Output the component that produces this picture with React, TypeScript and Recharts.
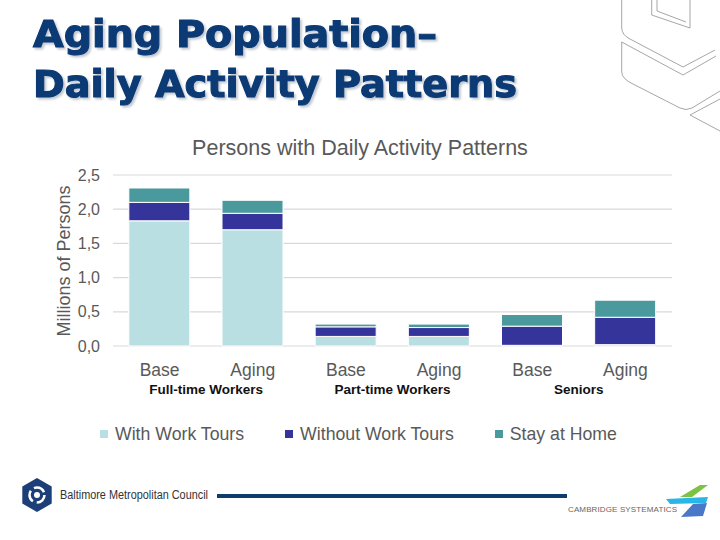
import React from "react";
import { BarChart, Bar, XAxis, YAxis, CartesianGrid, Legend } from "recharts";

// persons by daily activity pattern, millions
const scenarios = ["Base", "Aging", "Base", "Aging", "Base", "Aging"];
const groups = [
  "Full-time Workers",
  "Full-time Workers",
  "Part-time Workers",
  "Part-time Workers",
  "Seniors",
  "Seniors",
];
const withWorkTours = [1.83, 1.7, 0.14, 0.14, 0.01, 0.02];
const withoutWorkTours = [0.27, 0.24, 0.14, 0.13, 0.28, 0.4];
const stayAtHome = [0.21, 0.19, 0.04, 0.05, 0.17, 0.25];
const yTicks = [0, 0.5, 1, 1.5, 2, 2.5];

const series = [
  { key: "withWork", name: "With Work Tours", color: "#BADFE3" },
  { key: "withoutWork", name: "Without Work Tours", color: "#34349A" },
  { key: "stayHome", name: "Stay at Home", color: "#4A999D" },
];

const rows = scenarios.map((scenario, i) => ({
  scenario,
  group: groups[i],
  withWork: withWorkTours[i],
  withoutWork: withoutWorkTours[i],
  stayHome: stayAtHome[i],
}));

const FONT = '"Liberation Sans", Arial, sans-serif';
const GREY = "#595959";
const NAVY = "#0B3A75";

function ScenarioTick({ x, y, payload }: any) {
  return (
    <text x={x} y={y + 22} textAnchor="middle" fontSize={17.5} fill={GREY} fontFamily={FONT}>
      {payload.value}
    </text>
  );
}

function GroupTick({ x, y, payload }: any) {
  return (
    <text x={x} y={y + 18} textAnchor="middle" fontSize={13.5} fontWeight="bold" fill="#111" fontFamily={FONT}>
      {payload.value}
    </text>
  );
}

// legend keeps the stacking order (bottom segment first)
function LegendRow({ payload }: any) {
  const items = [...(payload || [])].sort(
    (a: any, b: any) =>
      series.findIndex((s) => s.name === a.value) - series.findIndex((s) => s.name === b.value)
  );
  return (
    <div
      style={{
        display: "flex",
        alignItems: "center",
        gap: 41,
        paddingLeft: 100,
        height: 20,
        fontFamily: FONT,
        fontSize: 17.7,
        color: GREY,
      }}
    >
      {items.map((p: any) => (
        <div key={p.value} style={{ display: "flex", alignItems: "center", lineHeight: "20px" }}>
          <span style={{ width: 8, height: 8, background: p.color, marginRight: 7, display: "inline-block" }} />
          {p.value}
        </div>
      ))}
    </div>
  );
}

function SlideArt() {
  return (
    <svg width={720} height={540} style={{ position: "absolute", left: 0, top: 0 }}>
      {/* outline shapes in the top right corner */}
      <g fill="none" stroke="#8f8f8f" strokeWidth={0.8}>
        <polyline points="651.7,0 651.7,15 690,28 690,0" />
        <polyline points="657,0 657,11 686,22" />
        <path d="M621.7,0 L621.7,28 Q622,35 630,39 L683,67 L715,50" />
        <path d="M621.7,42 L683,75 L716,56" />
        <path d="M621.7,42 L621.7,72 Q622,79 633,84 L680,108 Q686,111 692,108 L720,91" />
        <path d="M690,115 L720,99 M690,115 L720,131" />
      </g>

      {/* slide title */}
      <g
        fill={NAVY}
        stroke={NAVY}
        strokeWidth={1.1}
        fontFamily='"DejaVu Sans", Verdana, sans-serif'
        fontWeight="bold"
        fontSize={37}
        style={{ filter: "drop-shadow(2px 2px 1px rgba(120,130,150,0.45))" }}
      >
        <text x={33} y={47} textLength={404} lengthAdjust="spacingAndGlyphs">Aging Population–</text>
        <text x={33} y={97} textLength={484} lengthAdjust="spacingAndGlyphs">Daily Activity Patterns</text>
      </g>

      {/* chart title and value axis title */}
      <text x={360} y={155} textAnchor="middle" fontSize={21.5} fill={GREY} fontFamily={FONT}>
        Persons with Daily Activity Patterns
      </text>
      <text
        x={0}
        y={0}
        transform="translate(70,261) rotate(-90)"
        textAnchor="middle"
        fontSize={18}
        fill={GREY}
        fontFamily={FONT}
      >
        Millions of Persons
      </text>

      {/* footer */}
      <g transform="translate(37,495)">
        <polygon points="0,-17 14.7,-8.5 14.7,8.5 0,17 -14.7,8.5 -14.7,-8.5" fill="#1D3F78" />
        <circle r={7.5} fill="none" stroke="#fff" strokeWidth={2.5} strokeDasharray="12 4" />
        <circle r={3} fill="#fff" />
      </g>
      <text x={60} y={499} fontSize={12} fill="#333" fontFamily={FONT} textLength={148} lengthAdjust="spacingAndGlyphs">
        Baltimore Metropolitan Council
      </text>
      <rect x={217} y={494} width={350} height={4} fill="#0E3C70" />
      <text x={568} y={512} fontSize={8} fill="#666" fontFamily={FONT} textLength={109} lengthAdjust="spacing">
        CAMBRIDGE SYSTEMATICS
      </text>
      <polygon points="680,497 700,485 708,485 692,497" fill="#7DC242" />
      <polygon points="666,499 708,497 706,503 670,504" fill="#29B5E8" />
      <polygon points="693,504 707,503 703,516 681,517" fill="#4A78C8" />
    </svg>
  );
}

export default function App() {
  return (
    <div
      style={{
        position: "absolute",
        left: 0,
        top: 0,
        width: 720,
        height: 540,
        background: "#fff",
        overflow: "hidden",
        fontFamily: FONT,
      }}
    >
      <SlideArt />
      <div style={{ position: "absolute", left: 0, top: 0 }}>
        <BarChart
          width={720}
          height={540}
          data={rows}
          margin={{ top: 175, right: 48, bottom: 130, left: 53 }}
          barCategoryGap="17%"
        >
          <CartesianGrid xAxisId="main" vertical={false} stroke="#D9D9D9" strokeWidth={1.2} />
          <XAxis
            xAxisId="main"
            dataKey="scenario"
            height={22}
            axisLine={false}
            tickLine={false}
            interval={0}
            tick={<ScenarioTick />}
          />
          <XAxis
            xAxisId="pair"
            dataKey="group"
            allowDuplicatedCategory={false}
            height={22}
            axisLine={false}
            tickLine={false}
            interval={0}
            tick={<GroupTick />}
          />
          <YAxis
            width={60}
            domain={[0, 2.5]}
            ticks={yTicks}
            axisLine={false}
            tickLine={false}
            tickMargin={7}
            tickFormatter={(v: number) => v.toFixed(1).replace(".", ",")}
            tick={{ fontSize: 16, fill: GREY, fontFamily: FONT }}
          />
          <Legend
            content={<LegendRow />}
            wrapperStyle={{ top: 424, left: 0, width: 720, height: 20 }}
          />
          {series.map((s) => (
            <Bar
              key={s.key}
              xAxisId="main"
              dataKey={s.key}
              name={s.name}
              stackId="persons"
              fill={s.color}
              stroke="#fff"
              strokeWidth={1}
              isAnimationActive={false}
            />
          ))}
        </BarChart>
      </div>
    </div>
  );
}
